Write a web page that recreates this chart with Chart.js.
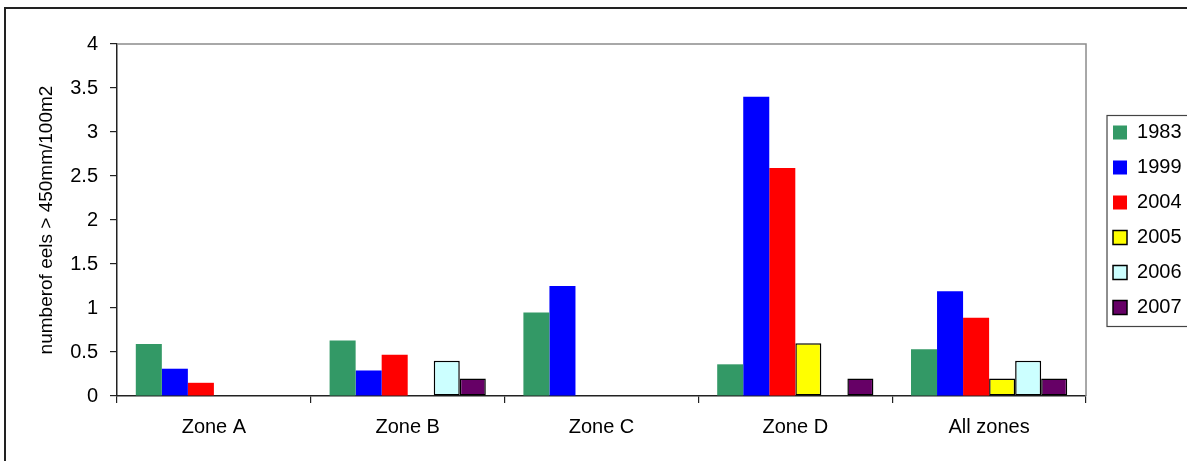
<!DOCTYPE html>
<html>
<head>
<meta charset="utf-8">
<script src="https://cdn.jsdelivr.net/npm/chart.js@4.4.1/dist/chart.umd.min.js"></script>
<style>
  html, body { margin: 0; padding: 0; background: #fff; }
  canvas { display: block; }
</style>
</head>
<body>
<canvas id="chart" width="1187" height="461"></canvas>
<script>
// values
const zones = ['Zone A', 'Zone B', 'Zone C', 'Zone D', 'All zones'];
const years = ['1983', '1999', '2004', '2005', '2006', '2007'];
const v1983 = [0.59, 0.63, 0.95, 0.36, 0.53];
const v1999 = [0.31, 0.29, 1.25, 3.40, 1.19];
const v2004 = [0.15, 0.47, null, 2.59, 0.89];
const v2005 = [null, null, null, 0.60, 0.20];
const v2006 = [null, 0.40, null, null, 0.40];
const v2007 = [null, 0.20, null, 0.20, 0.20];
const yTickLabels = ['0', '0.5', '1', '1.5', '2', '2.5', '3', '3.5', '4'];

const fillColors = ['#339966', '#0000ff', '#ff0000', '#ffff00', '#ccffff', '#660066'];
const outlined = [false, false, false, true, true, true];
const font = '"Liberation Sans", Arial, sans-serif';

const series = [v1983, v1999, v2004, v2005, v2006, v2007];
const datasets = series.map((vals, i) => ({
    label: years[i],
    data: vals,
    backgroundColor: fillColors[i],
    borderColor: '#000',
    borderWidth: outlined[i] ? 1.5 : 0,
    borderSkipped: false,
    categoryPercentage: 0.806,
    barPercentage: 1.0
}));

// frame, plot border and legend box
const decor = {
    id: 'decor',
    beforeDraw(chart) {
        const ctx = chart.ctx;
        ctx.save();
        ctx.fillStyle = '#fff';
        ctx.fillRect(0, 0, chart.width, chart.height);
        ctx.strokeStyle = '#222';
        ctx.lineWidth = 2;
        ctx.strokeRect(5, 8, 1300, 600);
        ctx.restore();
    },
    afterDraw(chart) {
        const ctx = chart.ctx;
        const a = chart.chartArea;
        ctx.save();
        ctx.strokeStyle = '#8c8c8c';
        ctx.lineWidth = 1.5;
        ctx.beginPath();
        ctx.moveTo(a.left, a.top);
        ctx.lineTo(a.right, a.top);
        ctx.lineTo(a.right, a.bottom);
        ctx.stroke();

        const lg = chart.legend;
        const hb = lg.legendHitBoxes;
        if (hb && hb.length) {
            const top = hb[0].top - 7;
            const bottom = hb[hb.length - 1].top + hb[hb.length - 1].height + 9;
            ctx.strokeStyle = '#444';
            ctx.lineWidth = 1.2;
            ctx.strokeRect(lg.left + 9, top, 200, bottom - top);
        }
        ctx.restore();
    }
};

new Chart(document.getElementById('chart'), {
    type: 'bar',
    data: { labels: zones, datasets: datasets },
    plugins: [decor],
    options: {
        responsive: false,
        animation: false,
        devicePixelRatio: 1,
        layout: { padding: { top: 44, left: 0, right: -4.5, bottom: 0 } },
        plugins: {
            tooltip: { enabled: false },
            legend: {
                position: 'right',
                align: 'center',
                fullSize: false,
                labels: {
                    boxWidth: 14,
                    boxHeight: 14,
                    padding: 15,
                    color: '#000',
                    font: { family: font, size: 20 }
                }
            }
        },
        scales: {
            x: {
                grid: { drawOnChartArea: false, offset: true, tickLength: 7, color: '#222', lineWidth: 1.2 },
                border: { display: true, color: '#222', width: 1.5 },
                ticks: { color: '#000', padding: 12, maxRotation: 0, font: { family: font, size: 20 } },
                afterFit(s) { s.height = 65; }
            },
            y: {
                min: 0,
                max: 4,
                ticks: {
                    stepSize: 0.5,
                    color: '#000',
                    padding: 12,
                    font: { family: font, size: 20 },
                    callback: (v, i) => yTickLabels[i]
                },
                grid: { drawOnChartArea: false, tickLength: 7, color: '#222', lineWidth: 1.2 },
                border: { display: true, color: '#222', width: 1.5 },
                title: {
                    display: true,
                    text: 'numberof eels > 450mm/100m2',
                    color: '#000',
                    padding: { top: 35, bottom: 0 },
                    font: { family: font, size: 19 }
                },
                afterFit(s) { s.width = 117; }
            },
            yR: {
                type: 'linear',
                position: 'right',
                display: true,
                grid: { display: false },
                border: { display: false },
                ticks: { display: false },
                afterFit(s) { s.width = 12; }
            }
        }
    }
});
</script>
</body>
</html>
